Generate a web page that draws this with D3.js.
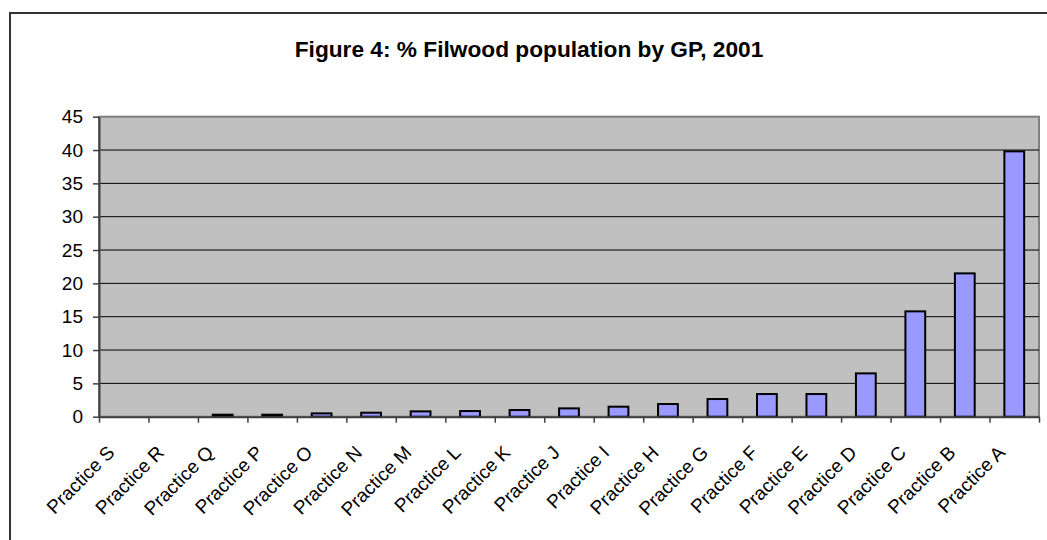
<!DOCTYPE html>
<html>
<head>
<meta charset="utf-8">
<script src="https://cdn.jsdelivr.net/npm/d3@7"></script>
<style>
  html, body { margin: 0; padding: 0; background: #fff; }
  svg { display: block; }
  text { font-family: "Liberation Sans", Arial, sans-serif; }
</style>
</head>
<body>
<svg id="chart" width="1047" height="540"></svg>
<script>
// Share of Filwood population registered with each GP practice, 2001 (%)
const practices = ["Practice S", "Practice R", "Practice Q", "Practice P", "Practice O",
  "Practice N", "Practice M", "Practice L", "Practice K", "Practice J", "Practice I",
  "Practice H", "Practice G", "Practice F", "Practice E", "Practice D", "Practice C",
  "Practice B", "Practice A"];
const percentages = [0, 0, 0.3, 0.3, 0.5, 0.6, 0.8, 0.85, 1.0, 1.25, 1.5, 1.9, 2.65,
  3.4, 3.4, 6.5, 15.8, 21.5, 39.8];
const yTicks = [0, 5, 10, 15, 20, 25, 30, 35, 40, 45];
const chartTitle = "Figure 4: % Filwood population by GP, 2001";

const svg = d3.select("#chart");
const plot = { left: 99, right: 1039, top: 116.7, bottom: 416.7 };

// Outer chart frame (left and top edges fall inside the page)
svg.append("path")
  .attr("d", "M10,560 L10,13 L1060,13")
  .attr("fill", "none")
  .attr("stroke", "#333")
  .attr("stroke-width", 2);

svg.append("text")
  .attr("x", 529)
  .attr("y", 57)
  .attr("text-anchor", "middle")
  .attr("font-size", 22.7)
  .attr("font-weight", "bold")
  .attr("fill", "#000")
  .text(chartTitle);

const x = d3.scaleBand()
  .domain(practices)
  .range([plot.left, plot.right])
  .paddingInner(0.6)
  .paddingOuter(0.3);

const xEdges = d3.scaleLinear()
  .domain([0, practices.length])
  .range([plot.left, plot.right]);

const y = d3.scaleLinear()
  .domain([0, 45])
  .range([plot.bottom, plot.top]);

// Plot background
svg.append("rect")
  .attr("x", plot.left)
  .attr("y", plot.top)
  .attr("width", plot.right - plot.left)
  .attr("height", plot.bottom - plot.top)
  .attr("fill", "#c0c0c0")
  .attr("stroke", "#808080")
  .attr("stroke-width", 2);

// Horizontal gridlines
svg.append("g")
  .selectAll("line")
  .data(yTicks.filter(t => t > 0 && t < 45))
  .join("line")
  .attr("x1", plot.left)
  .attr("x2", plot.right)
  .attr("y1", d => y(d))
  .attr("y2", d => y(d))
  .attr("stroke", "#000")
  .attr("stroke-width", 1);

// Bars
svg.append("g")
  .selectAll("rect")
  .data(practices.map((p, i) => ({ p, v: percentages[i] })).filter(d => d.v > 0))
  .join("rect")
  .attr("x", d => x(d.p))
  .attr("y", d => y(d.v))
  .attr("width", x.bandwidth())
  .attr("height", d => y(0) - y(d.v))
  .attr("fill", "#9999ff")
  .attr("stroke", "#000")
  .attr("stroke-width", 2);

// Y axis
const yAxis = svg.append("g")
  .attr("transform", `translate(${plot.left},0)`)
  .call(d3.axisLeft(y).tickValues(yTicks).tickSize(6).tickPadding(10).tickSizeOuter(0));
yAxis.select(".domain").attr("stroke", "#404040").attr("stroke-width", 2);
yAxis.selectAll(".tick line").attr("stroke", "#404040").attr("stroke-width", 1.5);
yAxis.selectAll(".tick text")
  .attr("font-size", 19)
  .attr("font-family", "Liberation Sans, Arial, sans-serif")
  .attr("fill", "#000");

// X axis: ticks between categories
const xAxis = svg.append("g")
  .attr("transform", `translate(0,${plot.bottom})`)
  .call(d3.axisBottom(xEdges).tickValues(d3.range(0, practices.length + 1))
    .tickSize(6).tickFormat("").tickSizeOuter(0));
xAxis.select(".domain").attr("stroke", "#404040").attr("stroke-width", 2);
xAxis.selectAll(".tick line").attr("stroke", "#404040").attr("stroke-width", 1.5);

// Rotated category labels
svg.append("g")
  .selectAll("text")
  .data(practices)
  .join("text")
  .attr("transform", d => `translate(${x(d) + x.bandwidth() / 2 - 8},${plot.bottom + 37}) rotate(-45)`)
  .attr("text-anchor", "end")
  .attr("font-size", 19)
  .attr("fill", "#000")
  .text(d => d);
</script>
</body>
</html>
